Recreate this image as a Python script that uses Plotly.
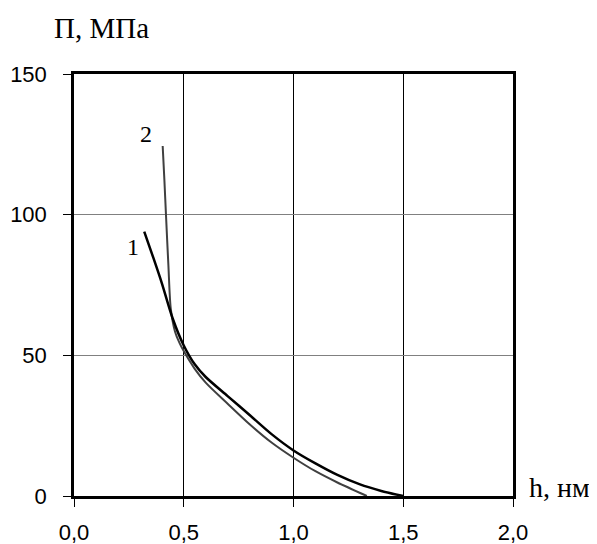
import plotly.graph_objects as go

# Curve 1 (black)
h1 = [0.32, 0.36, 0.40, 0.45, 0.50, 0.55, 0.60, 0.70, 0.80, 0.90, 1.00, 1.10, 1.20, 1.30, 1.40, 1.50]
p1 = [94.0, 85.0, 75.7, 63.0, 53.5, 46.8, 42.3, 35.5, 28.8, 22.0, 16.2, 11.6, 7.5, 4.2, 1.8, 0.0]

# Curve 2 (dark grey)
h2 = [0.404, 0.412, 0.419, 0.430, 0.441, 0.460, 0.480, 0.500, 0.550, 0.600, 0.700, 0.800, 0.900, 1.000, 1.100, 1.200, 1.334]
p2 = [124.4, 112.0, 100.0, 82.0, 66.5, 58.5, 54.5, 51.5, 45.2, 40.3, 32.8, 25.5, 19.0, 13.6, 8.8, 4.8, 0.0]

x_ticks = [0.0, 0.5, 1.0, 1.5, 2.0]
y_ticks = [0, 50, 100, 150]

fig = go.Figure()
fig.add_trace(go.Scatter(x=h2, y=p2, mode="lines",
                         line=dict(color="#404040", width=2, shape="spline", smoothing=0.8),
                         showlegend=False, hoverinfo="skip"))
fig.add_trace(go.Scatter(x=h1, y=p1, mode="lines",
                         line=dict(color="#000000", width=2.5, shape="spline", smoothing=0.8),
                         showlegend=False, hoverinfo="skip"))

serif = "Liberation Serif, Times New Roman, serif"
sans = "Liberation Sans, Arial, sans-serif"

fig.update_layout(
    width=589, height=536,
    margin=dict(l=66, r=84, t=66, b=48, pad=0),
    paper_bgcolor="white", plot_bgcolor="white",
    separators=", ",
    font=dict(family=sans, size=22, color="black"),
    xaxis=dict(range=[0, 2], tickvals=x_ticks, tickformat=".1f",
               showgrid=True, gridcolor="#000000", gridwidth=1,
               showline=True, linecolor="black", linewidth=2.5, mirror=True,
               ticks="outside", ticklen=8, tickcolor="black", tickwidth=1,
               zeroline=False, ticklabelstandoff=7, automargin=False,
               tickfont=dict(family=sans, size=22, color="black")),
    yaxis=dict(range=[0, 150], tickvals=y_ticks,
               showgrid=True, gridcolor="#808080", gridwidth=1,
               showline=True, linecolor="black", linewidth=2.5, mirror=True,
               ticks="outside", ticklen=8, tickcolor="black", tickwidth=1,
               zeroline=False, ticklabelstandoff=12, automargin=False,
               tickfont=dict(family=sans, size=22, color="black")),
    annotations=[
        dict(text="П, МПа", xref="paper", yref="paper", x=-0.05, y=1.11,
             xanchor="left", yanchor="middle", showarrow=False,
             font=dict(family=serif, size=29, color="black")),
        dict(text="h, нм", xref="paper", yref="paper", x=1.032, y=0.02,
             xanchor="left", yanchor="middle", showarrow=False,
             font=dict(family=serif, size=28, color="black")),
        dict(text="1", xref="x", yref="y", x=0.271, y=88.5,
             xanchor="center", yanchor="middle", showarrow=False,
             font=dict(family=serif, size=24, color="black")),
        dict(text="2", xref="x", yref="y", x=0.328, y=128.5,
             xanchor="center", yanchor="middle", showarrow=False,
             font=dict(family=serif, size=24, color="black")),
    ],
)

fig.write_html("out.html")
